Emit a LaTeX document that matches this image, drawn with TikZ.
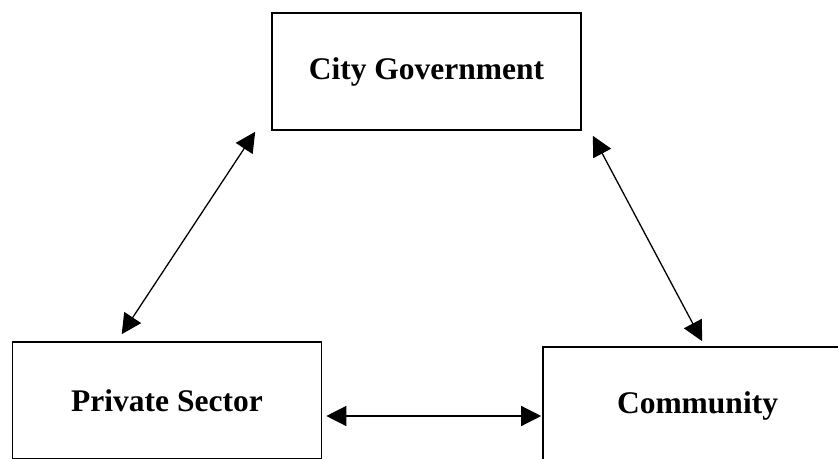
\documentclass[tikz,border=0pt]{standalone}
\usepackage{fontspec}
\setmainfont{Liberation Serif}
\usetikzlibrary{arrows.meta}

\begin{document}
\begin{tikzpicture}[x=0.5pt, y=-0.5pt]
\useasboundingbox (0,0) rectangle (838,459);
\clip (0,0) rectangle (838,459);
\begin{scope}
	\tikzstyle{box}=[draw, line width=0.8pt, minimum width=154.5pt, minimum height=58.5pt, inner sep=0pt, align=center, font=\fontsize{15.75}{19}\selectfont\bfseries]
	\tikzstyle{link}=[line width=0.65pt, {Triangle[length=10pt,width=10pt]}-{Triangle[length=10pt,width=10pt]}]
	\node[box] (gov) at (426.5,71.5) {City Government};
	\node[box] (priv) at (167,400.5) {Private Sector};
	\node[box] (comm) at (697.5,405.5) {Community};

	\coordinate (gp) at ([shift={(110,-7)}]priv.north west);
	\coordinate (pg) at ([shift={(-16,1)}]gov.south west);
	\coordinate (gc) at ([shift={(11,5)}]gov.south east);
	\coordinate (cg) at ([shift={(160,-5)}]comm.north west);

	\draw [link] (gp) -- (pg);
	\draw [link] (gc) -- (cg);
	\draw [link] ([shift={(4,15.5)}]priv.east) -- ([shift={(-1,10.5)}]comm.west);
\end{scope}
\end{tikzpicture}
\end{document}
